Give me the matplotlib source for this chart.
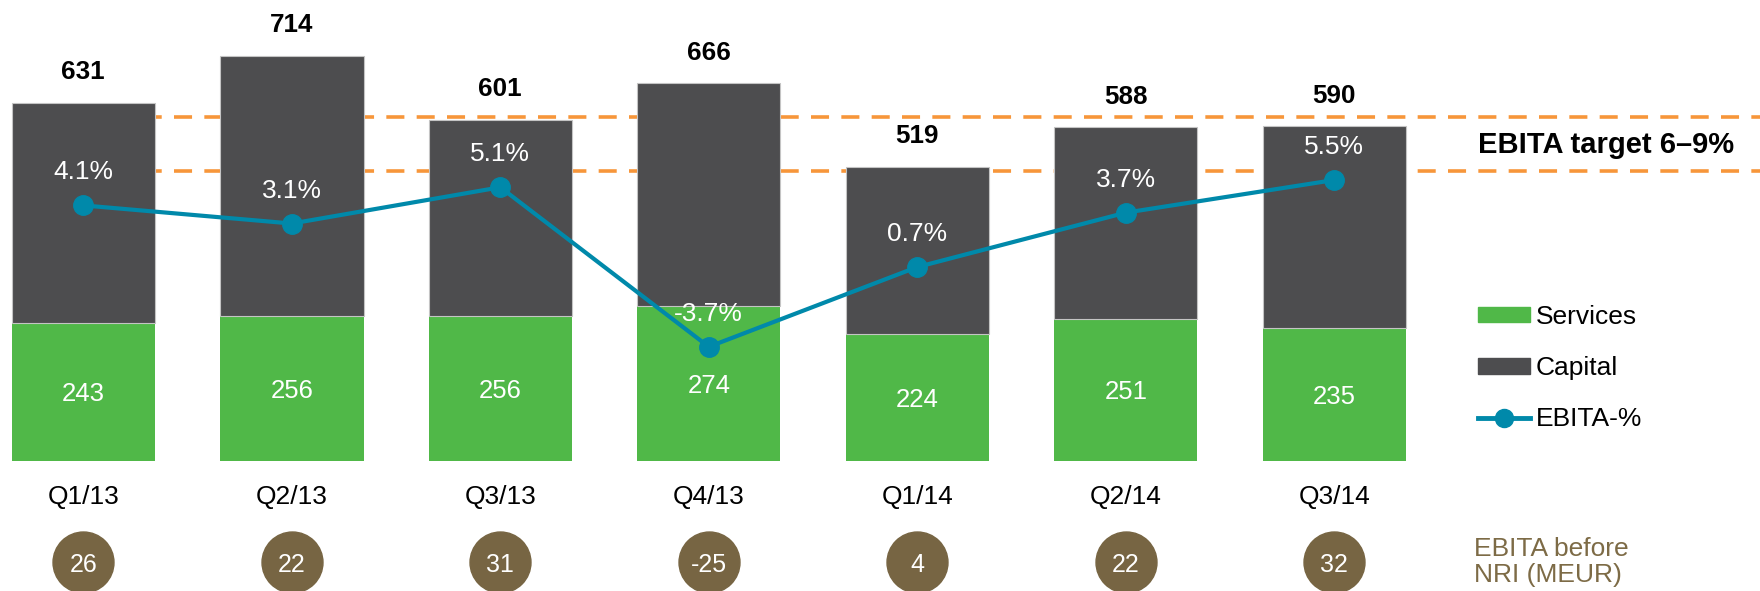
import numpy as np
import matplotlib.pyplot as plt
from matplotlib.patches import Patch
from matplotlib.lines import Line2D

# data
quarters = ['Q1/13', 'Q2/13', 'Q3/13', 'Q4/13', 'Q1/14', 'Q2/14', 'Q3/14']
services = [243, 256, 256, 274, 224, 251, 235]
totals = [631, 714, 601, 666, 519, 588, 590]
capital = [t - s for t, s in zip(totals, services)]
ebita_pct = [4.1, 3.1, 5.1, -3.7, 0.7, 3.7, 5.5]
ebita_nri = [26, 22, 31, -25, 4, 22, 32]
target = [6, 9]

green = '#50b848'
dark = '#4d4d4f'
blue = '#0089aa'
orange = '#f7963a'
brown = '#776543'

plt.rcParams['font.family'] = ['Liberation Sans', 'DejaVu Sans']

fig = plt.figure(figsize=(17.6, 5.91), dpi=100)
ax = fig.add_axes([0, 0, 1, 1])
ax.set_xlim(-0.3995, 8.042)
ax.set_ylim(-229.1, 812.5)
ax.axis('off')
ax2 = ax.twinx()
ax2.set_ylim(-17.17, 15.43)
ax2.axis('off')

x = np.arange(len(quarters))

# target band (behind the bars)
for t in target:
    ax.plot([x[0], 8.042], [t, t], transform=ax2.transData, color=orange,
            lw=2.6, ls=(0, (5, 3.4)), zorder=1)

ax.bar(x, services, 0.688, color=green, zorder=2)
ax.bar(x, capital, 0.688, bottom=services, color=dark,
       edgecolor='#c4c4c4', linewidth=0.8, zorder=2)

ax2.plot(x, ebita_pct, color=blue, lw=3, marker='o', ms=14, zorder=3)

for xi, tot, s, p, q, n in zip(x, totals, services, ebita_pct, quarters, ebita_nri):
    ax.annotate(str(tot), (xi, tot), xytext=(0, 17), textcoords='offset points',
                ha='center', va='baseline', fontsize=18.7, fontweight='bold')
    ax.annotate(str(s), (xi, s / 2), xytext=(0, -6.7), textcoords='offset points',
                ha='center', va='baseline', fontsize=18.5, color='white')
    ax2.annotate(f'{p}%', (xi, p), xytext=(0, 18.7), textcoords='offset points',
                 ha='center', va='baseline', fontsize=19, color='white', zorder=4)
    ax.text(xi, -75, q, ha='center', va='baseline', fontsize=19)
    ax.text(xi, -195.6, str(n), ha='center', va='baseline', fontsize=18,
            color='white', zorder=4)

ax.scatter(x, [-178] * len(x), s=1927, color=brown, zorder=3, clip_on=False)

fig.text(1478 / 1760, 1 - 153.4 / 591, 'EBITA target 6\u20139%', fontsize=21,
         fontweight='bold', ha='left', va='baseline')
fig.text(1474 / 1760, 1 - 581.8 / 591, 'EBITA before\nNRI (MEUR)', fontsize=19,
         color='#7d6b46', ha='left', va='baseline', linespacing=1.09)

handles = [Patch(color=green), Patch(color=dark),
           Line2D([], [], color=blue, lw=3.5, marker='o', ms=13)]
fig.legend(handles, ['Services', 'Capital', 'EBITA-%'], loc='upper left',
           bbox_to_anchor=(1478 / 1760, 1 - 305 / 591), frameon=False,
           fontsize=19, handlelength=1.97, handleheight=0.53, handletextpad=0.23,
           labelspacing=1.03, borderpad=0, borderaxespad=0)

fig.savefig('out.png', dpi=100)
